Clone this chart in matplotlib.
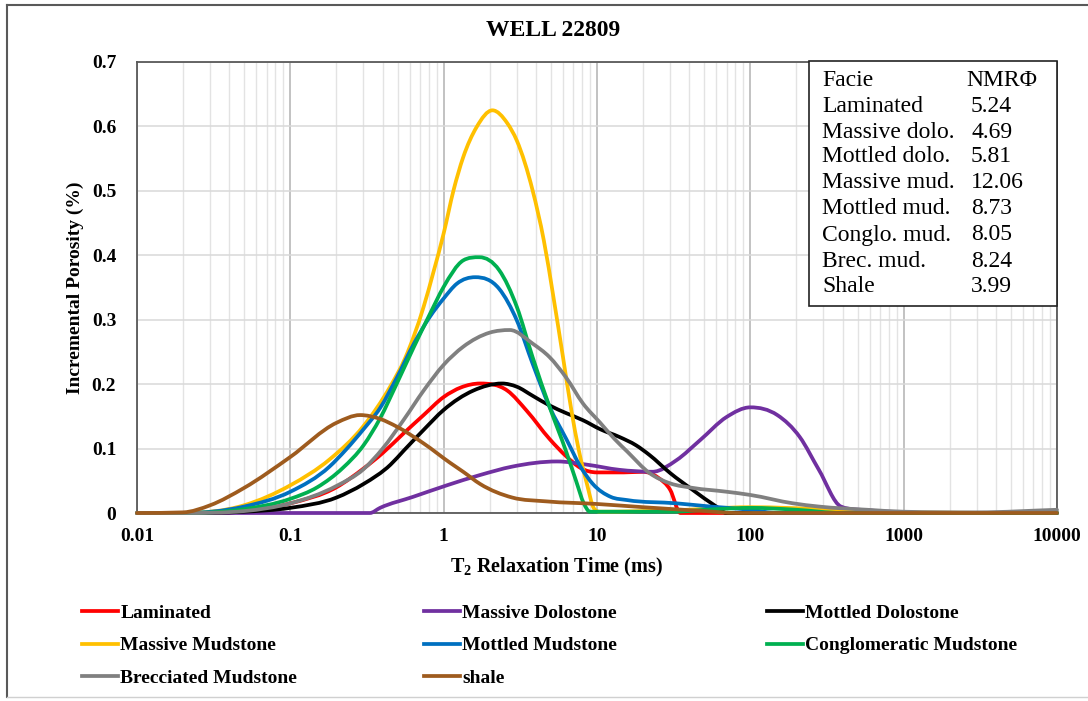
import numpy as np
import matplotlib
matplotlib.use("Agg")
import matplotlib.pyplot as plt
from matplotlib.path import Path
from matplotlib.patches import PathPatch, Rectangle
from matplotlib.lines import Line2D
from matplotlib.ticker import FixedLocator, LogLocator, FuncFormatter, MultipleLocator, NullFormatter

plt.rcParams['font.family'] = ['Liberation Serif', 'DejaVu Serif']
plt.rcParams['mathtext.fontset'] = 'custom'
plt.rcParams['mathtext.rm'] = 'Liberation Serif'
plt.rcParams['mathtext.bf'] = 'Liberation Serif:bold'

# T2 (ms) and incremental porosity (%) for each facies
lam_t = [0.01, 0.02, 0.05, 0.1, 0.2, 0.3, 0.4, 0.55, 0.74, 1.0, 1.3, 1.73, 2.6, 3.5, 4.9, 6.3, 7.8, 10, 15, 20, 25, 30, 35, 100, 10000]
lam_p = [0, 0, 0.002, 0.015, 0.04, 0.069, 0.093, 0.124, 0.152, 0.18, 0.195, 0.201, 0.19, 0.158, 0.115, 0.088, 0.07, 0.063, 0.063, 0.064, 0.055, 0.036, 0, 0, 0]

mdol_t = [0.01, 0.33, 0.385, 0.63, 1.05, 1.73, 2.8, 5.5, 8.6, 14, 23, 33, 47, 70, 100, 150, 210, 280, 390, 600, 1000, 2000, 10000]
mdol_p = [0, 0, 0.008, 0.025, 0.043, 0.059, 0.072, 0.08, 0.075, 0.067, 0.064, 0.082, 0.113, 0.149, 0.164, 0.152, 0.118, 0.067, 0.01, 0.004, 0.001, 0, 0]

tdol_t = [0.01, 0.02, 0.05, 0.1, 0.2, 0.3, 0.45, 0.55, 0.74, 1.0, 1.56, 2.4, 3.0, 3.8, 4.9, 6.3, 8.1, 10.5, 14, 18, 22, 30, 42, 60, 70, 10000]
tdol_p = [0, 0, 0.002, 0.008, 0.024, 0.045, 0.075, 0.097, 0.129, 0.16, 0.19, 0.201, 0.196, 0.182, 0.167, 0.155, 0.144, 0.13, 0.118, 0.105, 0.09, 0.062, 0.036, 0.01, 0, 0]

mmud_t = [0.01, 0.02, 0.05, 0.1, 0.18, 0.3, 0.45, 0.56, 0.74, 0.86, 1.0, 1.16, 1.34, 1.64, 2.08, 2.6, 3.0, 3.8, 4.5, 5.2, 6.0, 6.8, 7.6, 8.6, 9.5, 10.5, 30, 100, 300, 1000, 10000]
mmud_p = [0, 0, 0.012, 0.043, 0.083, 0.135, 0.197, 0.24, 0.32, 0.375, 0.434, 0.501, 0.552, 0.599, 0.625, 0.605, 0.578, 0.501, 0.423, 0.335, 0.242, 0.16, 0.098, 0.045, 0.008, 0.002, 0.004, 0.009, 0.006, 0.001, 0]

tmud_t = [0.01, 0.02, 0.05, 0.1, 0.18, 0.23, 0.3, 0.385, 0.495, 0.64, 0.81, 1.0, 1.22, 1.61, 2.3, 3.0, 3.8, 4.9, 6.3, 7.8, 9.4, 12.3, 15.8, 33, 55, 100, 150, 10000]
tmud_p = [0, 0, 0.01, 0.033, 0.072, 0.098, 0.13, 0.163, 0.21, 0.263, 0.304, 0.333, 0.356, 0.366, 0.348, 0.299, 0.232, 0.165, 0.115, 0.072, 0.045, 0.025, 0.02, 0.015, 0.01, 0.005, 0, 0]

cmud_t = [0.01, 0.02, 0.05, 0.1, 0.15, 0.22, 0.3, 0.385, 0.495, 0.64, 0.81, 1.0, 1.34, 1.71, 2.3, 3.0, 3.8, 4.9, 6.3, 7.3, 8.2, 9.0, 10, 30, 60, 100, 200, 400, 10000]
cmud_p = [0, 0, 0.006, 0.022, 0.04, 0.07, 0.105, 0.147, 0.201, 0.258, 0.308, 0.351, 0.392, 0.397, 0.377, 0.32, 0.242, 0.165, 0.095, 0.05, 0.015, 0.002, 0.002, 0.002, 0.006, 0.008, 0.005, 0, 0]

bmud_t = [0.01, 0.02, 0.05, 0.1, 0.2, 0.3, 0.4, 0.55, 0.74, 1.0, 1.34, 2.0, 2.7, 3.8, 4.9, 6.3, 8.1, 10.5, 13, 15.8, 22, 30, 42, 70, 100, 190, 280, 580, 1000, 3000, 10000]
bmud_p = [0, 0, 0.003, 0.015, 0.042, 0.068, 0.1, 0.145, 0.19, 0.23, 0.258, 0.28, 0.284, 0.263, 0.242, 0.21, 0.17, 0.14, 0.115, 0.095, 0.062, 0.046, 0.039, 0.033, 0.028, 0.015, 0.01, 0.005, 0.002, 0.001, 0.005]

sh_t = [0.01, 0.02, 0.03, 0.05, 0.1, 0.2, 0.285, 0.385, 0.495, 0.74, 1.1, 1.34, 1.73, 2.8, 4.7, 10, 20, 50, 80, 10000]
sh_p = [0, 0.001, 0.012, 0.039, 0.087, 0.14, 0.152, 0.146, 0.134, 0.108, 0.078, 0.064, 0.045, 0.024, 0.018, 0.014, 0.009, 0.003, 0, 0]

names = ['Laminated', 'Massive Dolostone', 'Mottled Dolostone', 'Massive Mudstone',
         'Mottled Mudstone', 'Conglomeratic Mudstone', 'Brecciated Mudstone', 'shale']
colors = ['#FF0000', '#7030A0', '#000000', '#FFC000', '#0070C0', '#00B050', '#808080', '#9E5B1E']
series = [(lam_t, lam_p), (mdol_t, mdol_p), (tdol_t, tdol_p), (mmud_t, mmud_p),
          (tmud_t, tmud_p), (cmud_t, cmud_p), (bmud_t, bmud_p), (sh_t, sh_p)]

# summary table
facies_short = ['Laminated', 'Massive dolo.', 'Mottled dolo.', 'Massive mud.',
                'Mottled mud.', 'Conglo. mud.', 'Brec. mud.', 'Shale']
nmr_phi = ['5.24', '4.69', '5.81', '12.06', '8.73', '8.05', '8.24', '3.99']

x_ticks = [0.01, 0.1, 1, 10, 100, 1000, 10000]


def smooth_path(t, p):
    # smoothed line: cubic bezier segments in log-T with three-point slopes,
    # flattened at turning points and limited so flat runs stay flat
    u = np.log10(np.asarray(t, float))
    y = np.asarray(p, float)
    h = np.diff(u)
    d = np.diff(y) / h
    m = np.zeros_like(y)
    for i in range(1, len(y) - 1):
        if d[i - 1] * d[i] > 0:
            s = (h[i] * d[i - 1] + h[i - 1] * d[i]) / (h[i - 1] + h[i])
            lim = 3 * min(abs(d[i - 1]), abs(d[i]))
            m[i] = np.sign(s) * min(abs(s), lim)
    m[0] = d[0]
    m[-1] = d[-1]
    verts = [(t[0], y[0])]
    codes = [Path.MOVETO]
    for i in range(len(y) - 1):
        verts.append((10 ** (u[i] + h[i] / 3), y[i] + m[i] * h[i] / 3))
        verts.append((10 ** (u[i + 1] - h[i] / 3), y[i + 1] - m[i + 1] * h[i] / 3))
        verts.append((t[i + 1], y[i + 1]))
        codes += [Path.CURVE4] * 3
    return Path(verts, codes)


W, H = 1088, 701
fig = plt.figure(figsize=(W / 100, H / 100), dpi=100)
ax = fig.add_axes([137 / W, 1 - 513 / H, 920 / W, 451 / H])

for (t, p), c in zip(series, colors):
    ax.add_patch(PathPatch(smooth_path(t, p), fill=False, edgecolor=c, lw=2.7,
                           joinstyle='round', capstyle='round', clip_on=False, zorder=3))

ax.set_xscale('log')
ax.set_xlim(0.01, 10000)
ax.set_ylim(0, 0.7)
ax.xaxis.set_major_locator(FixedLocator(x_ticks))
ax.xaxis.set_minor_locator(LogLocator(base=10, subs=np.arange(2, 10), numticks=100))
ax.xaxis.set_major_formatter(FuncFormatter(lambda v, pos: '{:g}'.format(v)))
ax.xaxis.set_minor_formatter(NullFormatter())
ax.yaxis.set_major_locator(MultipleLocator(0.1))
ax.yaxis.set_major_formatter(FuncFormatter(lambda v, pos: '{:g}'.format(round(v, 1))))
ax.grid(which='major', axis='x', color='#BDBDBD', lw=1.3)
ax.grid(which='minor', axis='x', color='#E3E3E3', lw=1.0)
ax.grid(which='major', axis='y', color='#D9D9D9', lw=1.1)
ax.set_axisbelow(True)
ax.tick_params(which='both', length=0)
ax.tick_params(axis='x', pad=11, labelsize=14)
ax.tick_params(axis='y', pad=15, labelsize=14)
for lab in ax.get_xticklabels() + ax.get_yticklabels():
    lab.set_fontweight('bold')
for s in ax.spines.values():
    s.set_color('#595959')
    s.set_linewidth(1.3)

fig.text(553 / W, 1 - 30 / H, 'WELL 22809', ha='center', va='center',
         fontsize=17, fontweight='bold')
fig.text(556 / W, 1 - 567 / H, r'$\mathbf{T_2}$ Relaxation Time (ms)', ha='center',
         va='center', fontsize=14.5, fontweight='bold')
fig.text(75 / W, 1 - 288 / H, 'Incremental Porosity (%)', ha='center', va='center',
         rotation=90, fontsize=14, fontweight='bold')

# NMR porosity table
fig.add_artist(Rectangle((809 / W, 1 - 306 / H), 248 / W, 245 / H, transform=fig.transFigure,
                         facecolor='white', edgecolor='#222222', lw=1.2, zorder=5))
rows_y = [80, 106, 132, 157, 183, 209, 235, 261, 287]
fig.text(822 / W, 1 - rows_y[0] / H, 'Facie', va='center', fontsize=17, zorder=6)
fig.text(966 / W, 1 - rows_y[0] / H, 'NMR\u03a6', va='center', fontsize=17, zorder=6)
for yy, nm, val in zip(rows_y[1:], facies_short, nmr_phi):
    fig.text(822 / W, 1 - yy / H, nm, va='center', fontsize=17, zorder=6)
    fig.text(971 / W, 1 - yy / H, val, va='center', fontsize=17, zorder=6)

# legend, three columns filled row by row
handles = [Line2D([], [], color=c, lw=2.7) for c in colors]
col_x = [82, 424, 767]
for k, x0 in enumerate(col_x):
    idx = list(range(k, len(names), 3))
    fig.legend([handles[i] for i in idx], [names[i] for i in idx], loc='upper left',
               bbox_to_anchor=(x0 / W, 1 - 604 / H), frameon=False, borderpad=0,
               borderaxespad=0, handlelength=1.85, handletextpad=0.12, labelspacing=0.78,
               prop={'weight': 'bold', 'size': 14})

# outer frame
fig.add_artist(Line2D([7 / W, 7 / W], [1 - 697 / H, 1 - 5 / H], transform=fig.transFigure,
                      color='#595959', lw=1.5))
fig.add_artist(Line2D([7 / W, 1], [1 - 5 / H, 1 - 5 / H], transform=fig.transFigure,
                      color='#595959', lw=1.5))
fig.add_artist(Line2D([7 / W, 1], [1 - 697 / H, 1 - 697 / H], transform=fig.transFigure,
                      color='#D0D0D0', lw=1.0))

fig.savefig('out.png', dpi=100)
